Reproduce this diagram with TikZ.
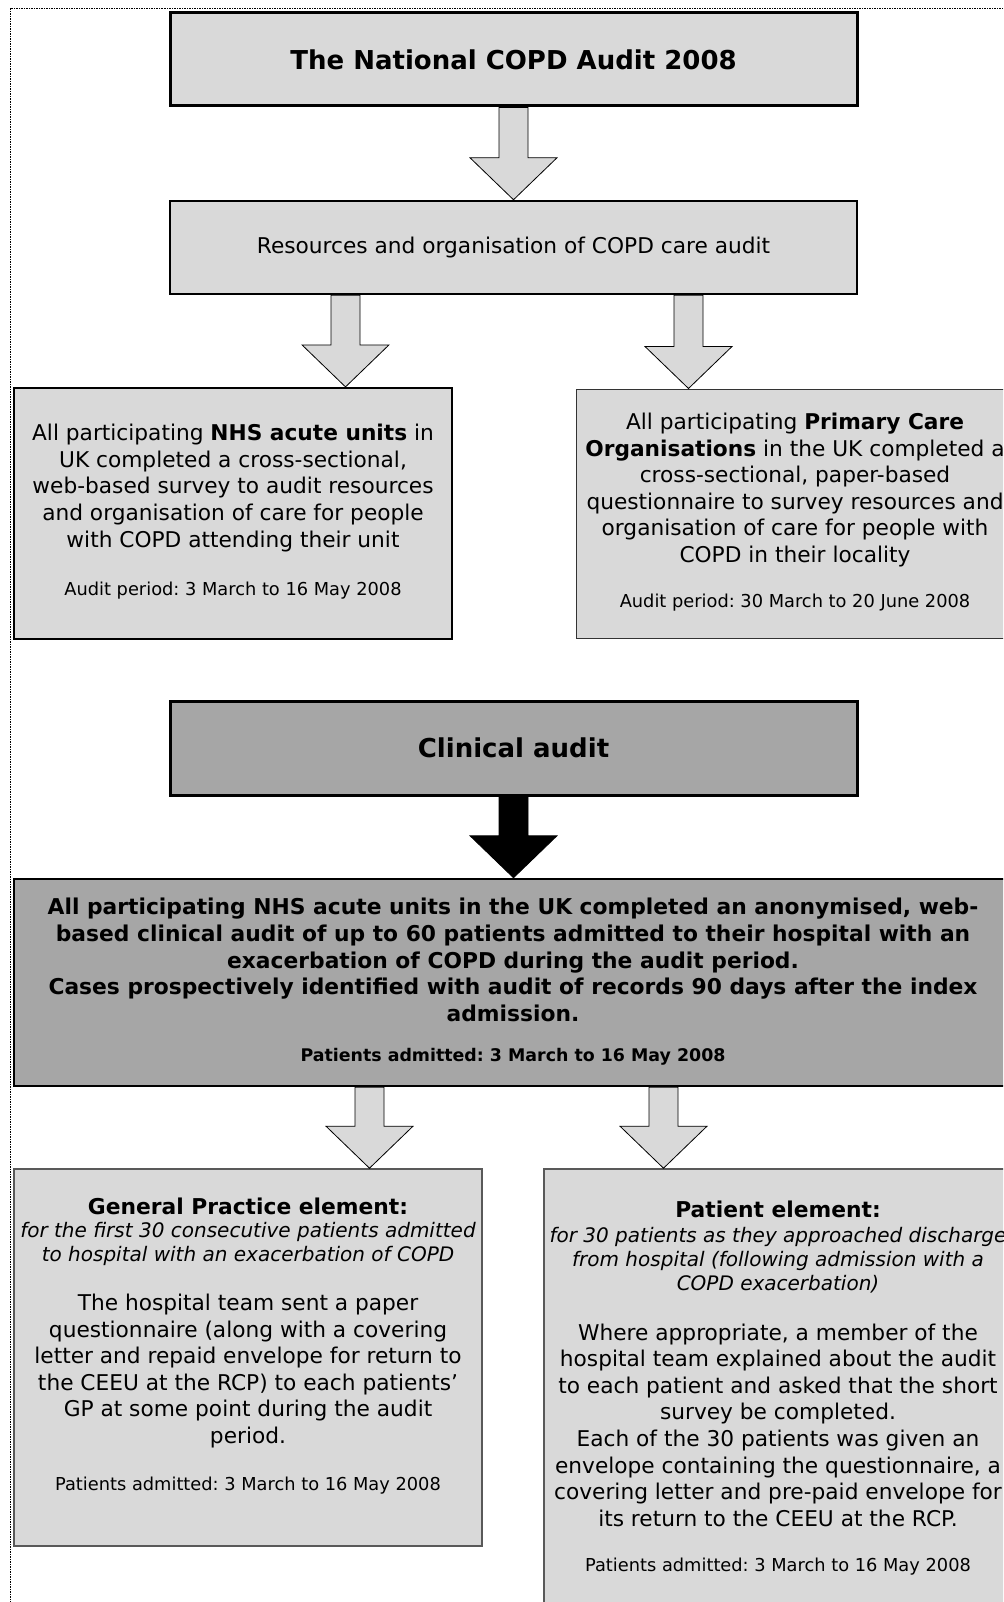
\documentclass[tikz,border=0pt]{standalone}
\usepackage{fontspec}
\setmainfont{DejaVu Sans}
\usetikzlibrary{calc}
\definecolor{lg}{HTML}{D9D9D9}
\definecolor{dg}{HTML}{A6A6A6}
\newcommand\fs[2]{\fontsize{#1}{#2}\selectfont}
\newcommand\blockarrow[4]{%
  \path (#2.south -| #4) coordinate (ba-s) (#3.north -| #4) coordinate (ba-t);
  \draw[#1] ($(ba-s)+(-14.5,0)$) -- ($(ba-t)+(-14.5,-42)$) -- ($(ba-t)+(-43.5,-42)$) -- (ba-t)
    -- ($(ba-t)+(43.5,-42)$) -- ($(ba-t)+(14.5,-42)$) -- ($(ba-s)+(14.5,0)$) -- cycle;}
\frenchspacing
\begin{document}
\begin{tikzpicture}[x=1pt,y=-1pt,
  box/.style={rectangle, inner sep=0pt, align=center},
  txt/.style={inner sep=0pt, align=center},
  garrow/.style={fill=lg, draw=black, line width=0.8pt, line join=miter},
  karrow/.style={fill=black, draw=black, line width=0.8pt},
  body/.style={font=\fs{21.7}{26.6}},
  small/.style={font=\fs{17.8}{21}},
  ital/.style={font=\fs{20}{24}\itshape}]
\useasboundingbox (0,0) rectangle (1003,1602);
\clip (0,0) rectangle (1003,1602);
\fill[white] (0,0) rectangle (1003,1602);
\draw[line width=1pt, dash pattern=on 1.5pt off 1pt] (1003,9) -- (10,9) -- (10,1602);

% boxes
\node[box, fill=lg, draw=black, line width=3pt, minimum width=687, minimum height=93, font=\fs{26}{30}\bfseries] (t1) at (513.5,59.5) {The National COPD Audit 2008};
\node[box, fill=lg, draw=black, line width=2.5pt, minimum width=687, minimum height=93, body] (t2) at (513.5,247.5) {Resources and organisation of COPD care audit};
\node[box, fill=lg, draw=black, line width=2.2pt, minimum width=438, minimum height=251] (l1) at (233,513.5) {};
\node[box, fill=lg, draw=black!80, line width=1pt, minimum width=438, minimum height=249] (r1) at (795,513.5) {};
\node[box, fill=dg, draw=black, line width=3pt, minimum width=687, minimum height=94, font=\fs{26}{30}\bfseries] (ca) at (513.5,748) {Clinical audit};
\node[box, fill=dg, draw=black, line width=2.5pt, minimum width=998, minimum height=207] (big) at (513,982.5) {};
\node[box, fill=lg, draw=black!65, line width=1.6pt, minimum width=468, minimum height=377] (gp) at (248,1357.5) {};
\node[box, fill=lg, draw=black!65, line width=1.6pt, minimum width=468, minimum height=460] (pe) at (778,1399) {};

% arrows
\coordinate (xa) at (513.5,0);
\coordinate (xl) at (345.5,0);
\coordinate (xr) at (688.5,0);
\coordinate (xgl) at (369.5,0);
\coordinate (xgr) at (663.5,0);
\blockarrow{garrow}{t1}{t2}{xa}
\blockarrow{garrow}{t2}{l1}{xl}
\blockarrow{garrow}{t2}{r1}{xr}
\blockarrow{karrow}{ca}{big}{xa}
\blockarrow{garrow}{big}{gp}{xgl}
\blockarrow{garrow}{big}{pe}{xgr}

% texts
\node[txt, body] (l1a) at (233,488) {All participating \textbf{NHS acute units} in\\UK completed a cross-sectional,\\web-based survey to audit resources\\and organisation of care for people\\with COPD attending their unit};
\node[txt, small] (l1b) at (233,591) {Audit period: 3 March to 16 May 2008};
\node[txt, body] (r1a) at (795,490) {All participating \textbf{Primary Care}\\\textbf{Organisations} in the UK completed a\\cross-sectional, paper-based\\questionnaire to survey resources and\\organisation of care for people with\\COPD in their locality};
\node[txt, small] (r1b) at (795,603) {Audit period: 30 March to 20 June 2008};
\node[txt, font=\fs{21.8}{26.6}\bfseries] (biga) at (513,960) {All participating NHS acute units in the UK completed an anonymised, web-\\based clinical audit of up to 60 patients admitted to their hospital with an\\exacerbation of COPD during the audit period.\\Cases prospectively identified with audit of records 90 days after the index\\admission.};
\node[txt, font=\fs{17.4}{21}\bfseries] (bigb) at (513,1057) {Patients admitted: 3 March to 16 May 2008};
\node[txt, font=\fs{21.8}{26}\bfseries] (gpa) at (248,1206) {General Practice element:};
\node[txt, ital] (gpb) at (248,1244) {for the first 30 consecutive patients admitted\\to hospital with an exacerbation of COPD};
\node[txt, body] (gpc) at (248,1371) {The hospital team sent a paper\\questionnaire (along with a covering\\letter and repaid envelope for return to\\the CEEU at the RCP) to each patients’\\GP at some point during the audit\\period.};
\node[txt, small] (gpd) at (248,1486) {Patients admitted: 3 March to 16 May 2008};
\node[txt, font=\fs{21.8}{26}\bfseries] (pea) at (778,1209) {Patient element:};
\node[txt, ital] (peb) at (778,1260) {for 30 patients as they approached discharge\\from hospital (following admission with a\\COPD exacerbation)};
\node[txt, body] (pec) at (778,1425) {Where appropriate, a member of the\\hospital team explained about the audit\\to each patient and asked that the short\\survey be completed.\\Each of the 30 patients was given an\\envelope containing the questionnaire, a\\covering letter and pre-paid envelope for\\its return to the CEEU at the RCP.};
\node[txt, small] (ped) at (778,1567) {Patients admitted: 3 March to 16 May 2008};
\end{tikzpicture}
\end{document}
